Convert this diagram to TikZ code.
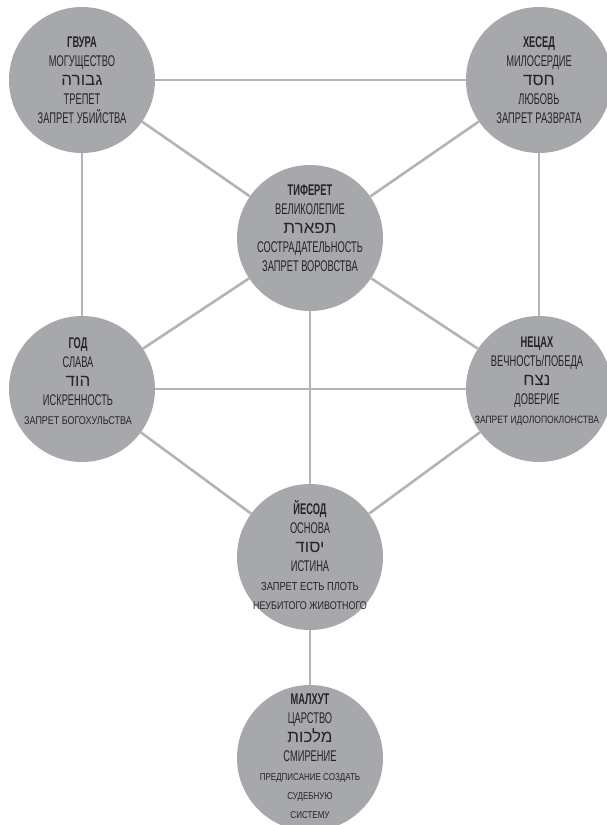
\documentclass[tikz,border=0pt]{standalone}
\usepackage{fontspec}
\setmainfont{Liberation Sans}[FakeStretch=0.6]
\newfontfamily\smfont{Liberation Sans}[FakeStretch=0.8]
\newfontfamily\heb[Script=Hebrew]{Liberation Sans}
\TeXXeTstate=1
\definecolor{discfill}{HTML}{A7A8AB}
\definecolor{linkcol}{HTML}{B4B4B6}
\definecolor{txtcol}{HTML}{262424}
\newcommand{\ttl}[1]{{\bfseries #1}}
\newcommand{\hb}[1]{{\heb\fontsize{17}{19}\selectfont\beginR #1\endR}}
\newcommand{\sm}[2]{{\smfont\fontsize{#1}{17}\selectfont #2}}
\newcommand{\smm}[1]{{\smfont\fontsize{10}{15.5}\selectfont #1}}
\begin{document}
\begin{tikzpicture}[x=1pt,y=-1pt,
  disc/.style={circle,fill=discfill,minimum size=146pt,inner sep=0pt},
  txt/.style={align=center,text=txtcol,font=\fontsize{15.5}{19}\selectfont,inner sep=0pt},
  link/.style={draw=linkcol,line width=2.6pt}]
\useasboundingbox (0,0) rectangle (607,825);
\node[disc] (gev) at (82,80) {};
\node[disc] (hes) at (539,80) {};
\node[disc] (tif) at (310,238) {};
\node[disc] (hod) at (82,389) {};
\node[disc] (net) at (539,389) {};
\node[disc] (yes) at (310,557) {};
\node[disc] (mal) at (310,758) {};
\draw[link] (gev) -- (hes);
\draw[link] (gev) -- (tif);
\draw[link] (hes) -- (tif);
\draw[link] (gev) -- (hod);
\draw[link] (hes) -- (net);
\draw[link] (tif) -- (hod);
\draw[link] (tif) -- (net);
\draw[link] (tif) -- (yes);
\draw[link] (hod) -- (net);
\draw[link] (hod) -- (yes);
\draw[link] (net) -- (yes);
\draw[link] (yes) -- (mal);
\node[txt] (gev-t) at (82,80) {\ttl{ГВУРА}\\МОГУЩЕСТВО\\\hb{גבורה}\\ТРЕПЕТ\\ЗАПРЕТ УБИЙСТВА};
\node[txt] (hes-t) at (539,80) {\ttl{ХЕСЕД}\\МИЛОСЕРДИЕ\\\hb{חסד}\\ЛЮБОВЬ\\ЗАПРЕТ РАЗВРАТА};
\node[txt] (tif-t) at (310,228) {\ttl{ТИФЕРЕТ}\\ВЕЛИКОЛЕПИЕ\\\hb{תפארת}\\СОСТРАДАТЕЛЬНОСТЬ\\ЗАПРЕТ ВОРОВСТВА};
\node[txt] (hod-t) at (78,381) {\ttl{ГОД}\\СЛАВА\\\hb{הוד}\\ИСКРЕННОСТЬ\\\sm{11.2}{ЗАПРЕТ БОГОХУЛЬСТВА}};
\node[txt] (net-t) at (537,381) {\ttl{НЕЦАХ}\\ВЕЧНОСТЬ/ПОБЕДА\\\hb{נצח}\\ДОВЕРИЕ\\\sm{10.6}{ЗАПРЕТ ИДОЛОПОКЛОНСТВА}};
\node[txt] (yes-t) at (310,555) {\ttl{ЙЕСОД}\\ОСНОВА\\\hb{יסוד}\\ИСТИНА\\\sm{11.6}{ЗАПРЕТ ЕСТЬ ПЛОТЬ}\\\sm{11.2}{НЕУБИТОГО ЖИВОТНОГО}};
\node[txt] (mal-t) at (310,756) {\ttl{МАЛХУТ}\\ЦАРСТВО\\\hb{מלכות}\\СМИРЕНИЕ\\\smm{ПРЕДПИСАНИЕ СОЗДАТЬ}\\\smm{СУДЕБНУЮ}\\\smm{СИСТЕМУ}};
\end{tikzpicture}
\end{document}
